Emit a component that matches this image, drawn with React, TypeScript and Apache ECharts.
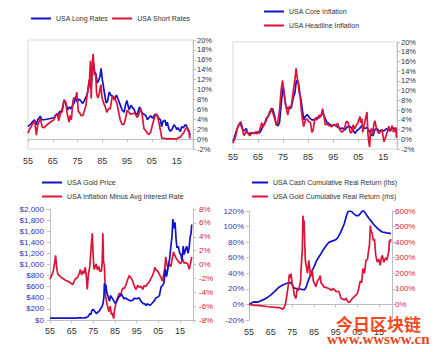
import React, { useEffect, useRef } from 'react';
import * as echarts from 'echarts';

// ---------- data (year, value) ----------
const longRates: [number, number][] = [
  [1955, 2.5], [1956, 3.0], [1957, 3.6], [1957.6, 3.9], [1958.3, 2.9], [1959, 4.0], [1960, 4.6], [1960.6, 3.9],
  [1961.5, 3.9], [1962.5, 4.0], [1963.5, 4.1], [1964.5, 4.2], [1965.5, 4.3], [1966.2, 4.9], [1967, 4.7], [1967.8, 5.6],
  [1968.5, 5.4], [1969.6, 7.9], [1970.3, 7.3], [1971, 5.9], [1971.7, 6.5], [1972.3, 6.1], [1973, 6.8], [1973.6, 7.3],
  [1974.3, 8.6], [1974.8, 7.5], [1975.7, 8.1], [1976.5, 7.6], [1977, 7.2], [1977.8, 7.8], [1978.4, 8.5], [1979, 9.2],
  [1979.7, 11.9], [1980.3, 10.3], [1981, 13.8], [1981.4, 15.5], [1981.9, 13.6], [1982.5, 13.0], [1982.9, 11.3],
  [1983.5, 11.8], [1984.1, 12.8], [1984.5, 14.3], [1985, 12.0], [1985.8, 9.5], [1986.5, 7.3], [1987.1, 7.6],
  [1987.8, 9.5], [1988.5, 8.8], [1989.3, 8.6], [1989.9, 7.9], [1990.7, 8.9], [1991.5, 7.9], [1992, 7.2], [1993, 5.9],
  [1993.8, 5.4], [1994.4, 7.0], [1994.9, 7.8], [1995.8, 5.9], [1996.5, 6.8], [1997.8, 6.0], [1998.7, 4.8], [1999.1, 5.0],
  [2000, 6.5], [2000.9, 5.4], [2001.8, 5.0], [2002.5, 4.8], [2003.2, 3.9], [2003.8, 4.3], [2004.5, 4.7], [2005.3, 4.2],
  [2006.3, 5.0], [2007.2, 4.7], [2007.9, 4.1], [2008.5, 3.9], [2008.9, 2.5], [2009.5, 3.6], [2010.3, 3.8], [2010.8, 2.7],
  [2011.2, 3.4], [2011.9, 2.0], [2012.5, 1.6], [2013.2, 2.0], [2013.9, 2.9], [2014.5, 2.5], [2015.1, 1.9], [2015.5, 2.3],
  [2016.5, 1.5], [2017.0, 2.5], [2017.7, 2.3], [2018.5, 2.9], [2019.0, 2.7], [2019.7, 1.6], [2020.0, 1.8], [2020.4, 0.7],
];

const shortRates: [number, number][] = [
  [1955, 1.2], [1955.6, 2.0], [1956.3, 2.5], [1957, 3.2], [1957.7, 3.6], [1958.4, 0.8], [1958.9, 2.8], [1959.5, 3.6],
  [1960, 4.2], [1960.7, 2.4], [1961.5, 2.3], [1962.5, 2.8], [1963.5, 3.2], [1964.5, 3.6], [1965.5, 3.9], [1966.2, 4.8],
  [1966.8, 5.2], [1967.4, 3.7], [1968.2, 5.3], [1968.8, 5.5], [1969.6, 7.9], [1970.2, 7.3], [1970.9, 4.9], [1971.6, 3.4],
  [1972, 4.8], [1972.5, 3.9], [1973.2, 7.9], [1973.6, 8.4], [1974.3, 8.2], [1974.7, 9.5], [1975.3, 5.6], [1976, 5.2],
  [1976.5, 4.7], [1977.2, 4.8], [1977.9, 6.0], [1978.4, 6.8], [1979, 9.5], [1979.3, 10.0], [1979.9, 12.5], [1980.2, 15.8],
  [1980.5, 8.2], [1980.8, 12.2], [1981, 15.5], [1981.3, 17.2], [1981.8, 12.9], [1982.3, 13.2], [1982.7, 9.2],
  [1983.2, 8.3], [1983.8, 9.3], [1984.4, 11.0], [1984.9, 8.3], [1985.5, 7.3], [1986.2, 6.5], [1986.8, 5.4], [1987.6, 6.2],
  [1988.2, 6.1], [1988.9, 8.3], [1989.4, 8.7], [1990.3, 7.9], [1990.9, 7.2], [1991.6, 5.4], [1992.2, 3.9], [1993, 2.9],
  [1993.7, 3.0], [1994.4, 4.2], [1995, 5.8], [1995.8, 5.4], [1996.5, 5.0], [1997.5, 5.2], [1998.5, 5.0], [1998.9, 4.4],
  [1999.5, 4.7], [2000.5, 6.2], [2001, 5.2], [2001.8, 2.1], [2002.5, 1.7], [2003.2, 1.2], [2003.8, 0.9], [2004.5, 1.4],
  [2005.3, 3.0], [2005.9, 4.0], [2006.5, 5.0], [2007.2, 4.9], [2007.9, 3.2], [2008.5, 1.6], [2009, 0.2], [2010, 0.15],
  [2011, 0.05], [2012, 0.1], [2013, 0.05], [2014, 0.03], [2015, 0.05], [2015.9, 0.3], [2016.5, 0.4], [2017.2, 0.9],
  [2017.9, 1.3], [2018.5, 2.0], [2019.2, 2.4], [2019.6, 2.0], [2020, 1.6], [2020.2, 0.5], [2020.4, 0.1],
];

const coreInflation: [number, number][] = [
  [1955, -0.4], [1955.5, 0.3], [1956.2, 1.5], [1957, 2.6], [1957.9, 3.4], [1958.5, 2.4], [1959.3, 1.7], [1960.3, 2.2],
  [1960.8, 1.3], [1961.5, 1.2], [1962.5, 1.3], [1963.5, 1.2], [1964.5, 1.5], [1965.5, 1.3], [1966.3, 1.9], [1967, 2.8],
  [1967.7, 3.3], [1968.3, 4.3], [1969, 4.6], [1969.7, 5.6], [1970.3, 6.3], [1970.9, 6.2], [1971.7, 4.6], [1972.3, 3.0],
  [1973, 2.8], [1973.6, 3.5], [1974.3, 7.5], [1975, 11.1], [1975.4, 9.5], [1976, 7.0], [1976.6, 6.4], [1977.5, 6.3],
  [1978.3, 6.5], [1979, 8.4], [1979.7, 9.5], [1980.3, 12.1], [1980.7, 12.0], [1981.2, 11.4], [1981.7, 9.4], [1982.2, 8.0],
  [1982.7, 6.0], [1983.3, 4.0], [1983.8, 4.6], [1984.6, 5.1], [1985.7, 4.3], [1986.5, 4.0], [1987.5, 4.0], [1988.3, 4.4],
  [1989.3, 4.4], [1990.3, 5.0], [1991, 5.3], [1991.7, 4.4], [1992.5, 3.5], [1993.3, 3.2], [1994.5, 2.8], [1995.5, 3.0],
  [1996.5, 2.6], [1997.7, 2.2], [1998.7, 2.3], [1999.7, 1.9], [2000.5, 2.5], [2001.5, 2.7], [2002.3, 2.4], [2003.7, 1.2],
  [2004.5, 1.8], [2005.5, 2.2], [2006.5, 2.8], [2007.5, 2.2], [2008.5, 2.4], [2009.3, 1.8], [2010.3, 0.9], [2010.9, 0.7],
  [2011.7, 2.0], [2012.5, 2.2], [2013.3, 1.7], [2014.5, 1.9], [2015.3, 1.7], [2016.3, 2.2], [2017.3, 1.8], [2017.8, 1.7],
  [2018.7, 2.3], [2019.5, 2.2], [2020, 2.3], [2020.3, 1.4],
];

const headlineInflation: [number, number][] = [
  [1955, -0.8], [1955.4, -0.2], [1956, 0.5], [1956.6, 2.0], [1957, 2.7], [1957.7, 3.3], [1958.2, 3.6], [1958.7, 2.4],
  [1959.3, 0.8], [1959.7, 1.0], [1960.3, 1.7], [1961, 1.2], [1961.7, 0.7], [1962.5, 1.3], [1963.3, 1.2], [1964, 1.5],
  [1964.6, 1.1], [1965.5, 1.7], [1966.5, 3.4], [1967, 2.5], [1967.8, 3.3], [1968.3, 3.9], [1969, 4.8], [1969.7, 5.3],
  [1970.3, 6.3], [1970.8, 5.6], [1971.6, 4.3], [1972.3, 2.9], [1972.9, 3.5], [1973.6, 6.0], [1974.2, 10.0], [1974.8, 12.1],
  [1975.2, 10.2], [1975.7, 8.4], [1976.3, 6.3], [1976.9, 5.0], [1977.5, 6.8], [1978.2, 6.5], [1978.8, 8.9], [1979.3, 10.8],
  [1979.8, 12.6], [1980.2, 14.6], [1980.6, 12.8], [1981, 11.7], [1981.4, 9.7], [1981.8, 8.9], [1982.3, 6.0], [1982.8, 3.9],
  [1983.2, 2.6], [1984, 4.0], [1984.6, 4.2], [1985.2, 3.6], [1985.9, 3.5], [1986.5, 1.4], [1987, 1.9], [1987.7, 4.3],
  [1988.5, 4.0], [1989.4, 5.0], [1989.8, 4.5], [1990.3, 5.2], [1990.8, 6.3], [1991.3, 4.9], [1991.8, 3.0], [1992.5, 3.1],
  [1993.5, 2.8], [1994.5, 2.6], [1995.3, 3.1], [1996, 2.7], [1996.8, 3.3], [1997.5, 2.2], [1998.3, 1.5], [1998.9, 1.6],
  [1999.7, 2.6], [2000.3, 3.7], [2001, 3.4], [2001.9, 1.3], [2002.5, 1.5], [2003, 3.0], [2003.5, 2.1], [2004.3, 2.9],
  [2004.9, 3.4], [2005.7, 4.7], [2006, 3.4], [2006.5, 4.2], [2006.8, 1.4], [2007.3, 2.7], [2007.9, 4.2], [2008.5, 5.6],
  [2008.9, 1.0], [2009.3, -0.8], [2009.6, -1.6], [2009.9, 1.8], [2010.3, 2.2], [2010.8, 1.2], [2011.3, 3.2], [2011.7, 3.8],
  [2012.3, 2.2], [2012.8, 1.5], [2013.3, 1.2], [2013.9, 1.6], [2014.5, 2.0], [2014.9, 0.8], [2015.3, -0.5], [2015.8, 0.2],
  [2016.3, 1.0], [2016.9, 2.0], [2017.2, 2.7], [2017.7, 1.7], [2018.2, 2.3], [2018.6, 2.8], [2019.1, 1.5], [2019.6, 1.8],
  [2020, 2.4], [2020.3, 0.3],
];

const goldPrice: [number, number][] = [
  [1955, 35], [1960, 35], [1965, 35], [1967.5, 35], [1968.3, 40], [1969, 42], [1970, 36], [1971, 40], [1971.6, 42],
  [1972.5, 60], [1973, 90], [1973.5, 120], [1973.9, 100], [1974.3, 170], [1974.9, 190], [1975.5, 165], [1976, 135],
  [1976.6, 115], [1977, 140], [1977.8, 165], [1978.6, 220], [1979, 240], [1979.5, 300], [1979.9, 420], [1980.1, 660],
  [1980.4, 520], [1980.8, 640], [1981.2, 500], [1981.9, 410], [1982.5, 340], [1982.9, 440], [1983.3, 420], [1983.9, 380],
  [1984.5, 340], [1985.1, 300], [1985.7, 330], [1986.6, 400], [1987.4, 450], [1987.9, 470], [1988.6, 420], [1989.3, 380],
  [1989.9, 400], [1990.5, 380], [1991.3, 360], [1992.2, 345], [1993.3, 360], [1993.7, 390], [1994.7, 385], [1995.5, 385],
  [1996.1, 400], [1997, 340], [1997.8, 300], [1998.7, 290], [1999.5, 260], [1999.8, 290], [2000.5, 280], [2001.3, 265],
  [2002.3, 310], [2003.2, 350], [2003.9, 400], [2004.7, 410], [2005.5, 440], [2006.3, 600], [2006.9, 620], [2007.6, 670],
  [2008.2, 920], [2008.8, 780], [2009.5, 950], [2010.2, 1100], [2010.9, 1370], [2011.3, 1500], [2011.7, 1820],
  [2012.1, 1650], [2012.7, 1760], [2013.2, 1450], [2013.6, 1300], [2014.2, 1330], [2014.9, 1200], [2015.4, 1180],
  [2015.9, 1080], [2016.5, 1330], [2016.9, 1180], [2017.5, 1260], [2018.1, 1330], [2018.7, 1200], [2019.2, 1300],
  [2019.7, 1500], [2020.1, 1560], [2020.4, 1720],
];

const inflationMinusRate: [number, number][] = [
  [1955, -2.1], [1955.7, -1.6], [1956.5, -1.0], [1957.3, 0.6], [1957.6, 1.3], [1958.1, -0.5], [1958.6, -1.4],
  [1959.3, -1.6], [1960.3, -1.9], [1961.3, -2.1], [1962.3, -2.3], [1963.2, -2.4], [1964.3, -2.6], [1965.5, -2.9],
  [1966.3, -2.3], [1967, -2.0], [1967.7, -1.9], [1968.5, -1.3], [1969, -0.7], [1969.6, -1.5], [1970.3, -0.9],
  [1970.7, -1.3], [1971.3, -0.4], [1971.8, -1.8], [1972.2, -3.6], [1972.7, -1.5], [1973.4, -0.2], [1974, 2.5],
  [1974.5, 4.5], [1974.9, 1.5], [1975.3, -0.7], [1975.8, -0.4], [1976.3, 0.1], [1976.9, -0.8], [1977.5, -0.3],
  [1978.1, -1.0], [1978.8, -0.9], [1979.1, 0.5], [1979.4, 4.5], [1979.7, 0.5], [1980.1, -0.2], [1980.5, -3.5],
  [1980.7, -4.6], [1981.2, -5.5], [1981.6, -6.1], [1982.2, -6.8], [1982.8, -6.0], [1983.3, -7.2], [1983.7, -7.0],
  [1984.4, -7.8], [1984.8, -6.5], [1985.5, -5.5], [1986.2, -4.8], [1987, -4.1], [1987.6, -4.6], [1988.1, -3.8],
  [1988.6, -3.4], [1989.3, -3.5], [1990.1, -2.9], [1990.8, -2.2], [1991.6, -1.6], [1992.3, -1.9], [1993.2, -2.4],
  [1994, -3.2], [1994.7, -3.6], [1995.5, -3.0], [1996.3, -3.3], [1997, -3.1], [1997.8, -3.6], [1998.5, -3.0],
  [1999.3, -3.2], [2000, -2.8], [2000.8, -2.5], [2001.6, -2.0], [2002.3, -1.6], [2003, -1.0], [2003.4, -0.4],
  [2004, -0.8], [2004.6, -0.9], [2005.3, -1.3], [2006.1, -1.8], [2006.9, -2.4], [2007.6, -1.2], [2008, -0.5],
  [2008.4, 1.1], [2008.8, 0.3], [2009.4, -0.6], [2010.1, 0.1], [2010.8, -0.3], [2011.4, 0.8], [2012, 1.8],
  [2012.6, 1.3], [2013.2, 0.9], [2013.9, 0.6], [2014.6, 0.3], [2015.3, 0.1], [2016.2, 0.8], [2016.8, 0.2],
  [2017.5, 0.3], [2018.5, 0.1], [2019.3, -0.7], [2019.9, 0.2], [2020.4, 1.1],
];

const cashRealReturn: [number, number][] = [
  [1955, 0], [1956, 1.5], [1957, 3], [1958, 3.2], [1959, 3], [1960, 4], [1961, 5.5], [1962, 6.5], [1963, 8],
  [1964, 10], [1965, 12], [1966, 14.5], [1967, 17], [1968, 20], [1969, 22.5], [1970, 24], [1971, 25.5], [1972, 26.5],
  [1973, 27.5], [1974, 28], [1974.7, 27], [1975.3, 23], [1976, 21], [1977, 20.5], [1978, 20], [1979, 19.5],
  [1980, 19], [1980.7, 19], [1981.5, 23], [1982, 28], [1983, 35], [1984, 43], [1985, 48], [1986, 55], [1987, 60],
  [1988, 64], [1989, 69], [1990, 73], [1991, 77], [1992, 80], [1993, 81], [1994, 82], [1995, 83], [1996, 86],
  [1997, 91], [1998, 97], [1999, 104], [2000, 114], [2000.6, 119], [2001.5, 120], [2002.5, 119], [2003.5, 116],
  [2004.5, 114], [2005.5, 114], [2006.5, 117], [2007.6, 121], [2008.5, 118], [2009.5, 114], [2010.5, 110],
  [2011.4, 107], [2012.5, 103], [2013.5, 100], [2014.5, 97], [2015.5, 95], [2016.5, 93], [2017.6, 92.5],
  [2018.5, 92], [2019.5, 91.5], [2020.5, 91],
];

const goldRealReturn: [number, number][] = [
  [1955, 0], [1957, -5], [1960, -8], [1964, -15], [1968.7, -20], [1970, -25], [1970.5, -32], [1971.2, -20],
  [1971.8, 0], [1972.4, 50], [1973.2, 130], [1973.6, 194], [1974, 170], [1974.4, 198], [1974.9, 134], [1975.5, 100],
  [1975.9, 60], [1976.7, 38], [1977.2, 100], [1977.8, 90], [1978.3, 115], [1978.8, 150], [1979.1, 240], [1979.6, 350],
  [1979.9, 570], [1980.1, 520], [1980.4, 540], [1980.7, 400], [1981, 283], [1981.5, 240], [1982, 200], [1982.6, 283],
  [1983, 240], [1983.4, 177], [1984.2, 219], [1984.7, 150], [1985.4, 130], [1985.9, 113], [1986.6, 150],
  [1987.4, 166], [1987.9, 185], [1988.2, 140], [1989, 125], [1989.7, 110], [1990.5, 110], [1991.2, 105], [1992, 102],
  [1993, 90], [1993.6, 100], [1994.5, 95], [1995.2, 81], [1996, 85], [1996.6, 80], [1997.5, 38], [1998.3, 35],
  [1999, 28], [1999.8, 40], [2000.6, 17], [2001.3, 12], [2002, 25], [2002.8, 40], [2003.6, 49], [2004.3, 60],
  [2005, 70], [2005.6, 100], [2006.3, 150], [2007, 140], [2007.6, 230], [2008.3, 200], [2009, 283], [2009.7, 290],
  [2010.2, 350], [2010.6, 380], [2011, 506], [2011.4, 470], [2011.8, 460], [2012.4, 410], [2012.9, 420],
  [2013.5, 315], [2014.2, 272], [2014.9, 290], [2015.6, 251], [2016.1, 300], [2016.6, 315], [2017.2, 270],
  [2017.7, 290], [2018.3, 300], [2018.6, 283], [2019.2, 320], [2019.5, 340], [2019.8, 410], [2020.1, 400], [2020.4, 420],
];

const legendTitles = {
  long: 'USA Long Rates',
  short: 'USA Short Rates',
  core: 'USA Core Inflation',
  headline: 'USA Headline Inflation',
  gold: 'USA Gold Price',
  infl: 'USA Inflation Minus Avg Interest Rate',
  cash: 'USA Cash Cumulative Real Return (lhs)',
  goldRet: 'USA Gold Cumulative Real Return (rhs)',
};

const BLUE = '#1212c8';
const RED = '#dc1438';
const AXIS_GRAY = '#bfbfbf';
const TEXT = '#333333';
const LBL_BLUE = '#3434b4';
const LBL_RED = '#d0243c';
const FONT = 'Liberation Sans, Arial, sans-serif';

const yearFmt = (v: number) => {
  const d = Math.round((v - 1955) * 1000) / 1000;
  if (d % 10 !== 0) return '';
  return String(Math.round(v) % 100).padStart(2, '0');
};

function xAxesFor(grid: number, max: number, margin: number, onZeroIdx: number | null) {
  return [
    {
      type: 'value', gridIndex: grid, min: 1955, max, interval: 10,
      axisLine: { show: true, onZero: onZeroIdx !== null, onZeroAxisIndex: onZeroIdx ?? undefined, lineStyle: { color: AXIS_GRAY, width: 1 } },
      axisTick: { show: true, length: 3, lineStyle: { color: AXIS_GRAY } },
      axisLabel: { show: false },
      splitLine: { show: false },
    },
    {
      type: 'value', gridIndex: grid, min: 1955, max, interval: 10, position: 'bottom',
      axisLine: { show: false, onZero: false },
      axisTick: { show: false },
      axisLabel: { show: true, formatter: yearFmt, fontSize: 9, color: TEXT, margin, fontFamily: FONT, showMaxLabel: false },
      splitLine: { show: false },
    },
  ];
}

const line = (name: string, data: [number, number][], color: string, xIdx: number, yIdx: number) => ({
  name, type: 'line', data, xAxisIndex: xIdx, yAxisIndex: yIdx, showSymbol: false, symbol: 'none',
  lineStyle: { color, width: 1.7 }, itemStyle: { color }, silent: true,
});

const legendBase = {
  icon: 'rect', itemHeight: 2, padding: 0,
  textStyle: { fontSize: 7, color: TEXT, fontFamily: FONT },
};

const yBase = (grid: number, position: string, min: number, max: number, interval: number, formatter: any, color: string, fontSize: number, margin: number) => ({
  type: 'value', gridIndex: grid, position, min, max, interval,
  axisLine: { show: true, lineStyle: { color: AXIS_GRAY } },
  axisTick: { show: true, length: 3, lineStyle: { color: AXIS_GRAY } },
  axisLabel: { formatter, color, fontSize, margin, fontFamily: FONT },
  splitLine: { show: false },
});

const dollarFmt = (v: number) => '$' + (v >= 1000 ? Math.floor(v / 1000) + ',' + String(v % 1000).padStart(3, '0') : String(v));

export default function App() {
  const ref = useRef<HTMLDivElement>(null);
  useEffect(() => {
    const chart = echarts.init(ref.current!, null, { renderer: 'svg' });
    const option: any = {
      animation: false,
      backgroundColor: '#ffffff',
      textStyle: { fontFamily: FONT },
      grid: [
        { left: 28, top: 40, width: 165, height: 109, show: true, borderColor: '#d9d9d9', borderWidth: 1, backgroundColor: 'transparent' },
        { left: 233, top: 42, width: 164, height: 107, show: true, borderColor: '#d9d9d9', borderWidth: 1, backgroundColor: 'transparent' },
        { left: 50, top: 209, width: 143, height: 111, show: false },
        { left: 249, top: 211, width: 143, height: 109, show: false },
      ],
      xAxis: [
        ...xAxesFor(0, 2021.6, 7, 0),
        ...xAxesFor(1, 2020.5, 3, 1),
        ...xAxesFor(2, 2021, 6, 2),
        ...xAxesFor(3, 2021, 7, 4),
      ],
      yAxis: [
        yBase(0, 'right', -2, 20, 2, '{value}%', TEXT, 7.5, 4),
        yBase(1, 'right', -2, 20, 2, '{value}%', TEXT, 7.5, 4),
        yBase(2, 'left', 0, 2000, 200, dollarFmt, LBL_BLUE, 8, 6),
        yBase(2, 'right', -8, 8, 2, '{value}%', LBL_RED, 8, 6),
        yBase(3, 'left', -20, 120, 20, '{value}%', LBL_BLUE, 8, 5),
        yBase(3, 'right', -100, 600, 100, (v: number) => (v < 0 ? '' : v + '%'), LBL_RED, 8, 3),
      ],
      legend: [
        { ...legendBase, data: [legendTitles.long, legendTitles.short], left: 31, top: 15, itemWidth: 20, itemGap: 4 },
        { ...legendBase, data: [legendTitles.core, legendTitles.headline], left: 264, top: 8, orient: 'vertical', itemWidth: 20, itemGap: 7 },
        { ...legendBase, data: [legendTitles.gold, legendTitles.infl], left: 42, top: 179, orient: 'vertical', itemWidth: 20, itemGap: 7 },
        { ...legendBase, data: [legendTitles.cash, legendTitles.goldRet], left: 252, top: 179, orient: 'vertical', itemWidth: 16, itemGap: 7 },
      ],
      series: [
        line(legendTitles.long, longRates, BLUE, 0, 0),
        line(legendTitles.short, shortRates, RED, 0, 0),
        line(legendTitles.core, coreInflation, BLUE, 2, 1),
        line(legendTitles.headline, headlineInflation, RED, 2, 1),
        line(legendTitles.infl, inflationMinusRate, RED, 4, 3),
        line(legendTitles.gold, goldPrice, BLUE, 4, 2),
        line(legendTitles.cash, cashRealReturn, BLUE, 6, 4),
        line(legendTitles.goldRet, goldRealReturn, RED, 6, 5),
      ],
      graphic: [
        {
          type: 'text', left: 336, top: 315, z: 100,
          style: { text: '今日区块链', fontSize: 17, fontWeight: 'bold', fontFamily: 'Noto Sans CJK SC', fill: '#f04a1e' },
        },
        {
          type: 'text', left: 327, top: 331, z: 100,
          style: { text: 'www.wwsww.cn', fontSize: 15, fontWeight: 'bold', fontFamily: 'Liberation Serif, serif', fill: '#e8461c' },
        },
      ],
    };
    chart.setOption(option);
    return () => chart.dispose();
  }, []);
  return (
    <div
      ref={ref}
      style={{ position: 'absolute', left: 0, top: 0, width: 440, height: 352, background: '#fff' }}
    />
  );
}
